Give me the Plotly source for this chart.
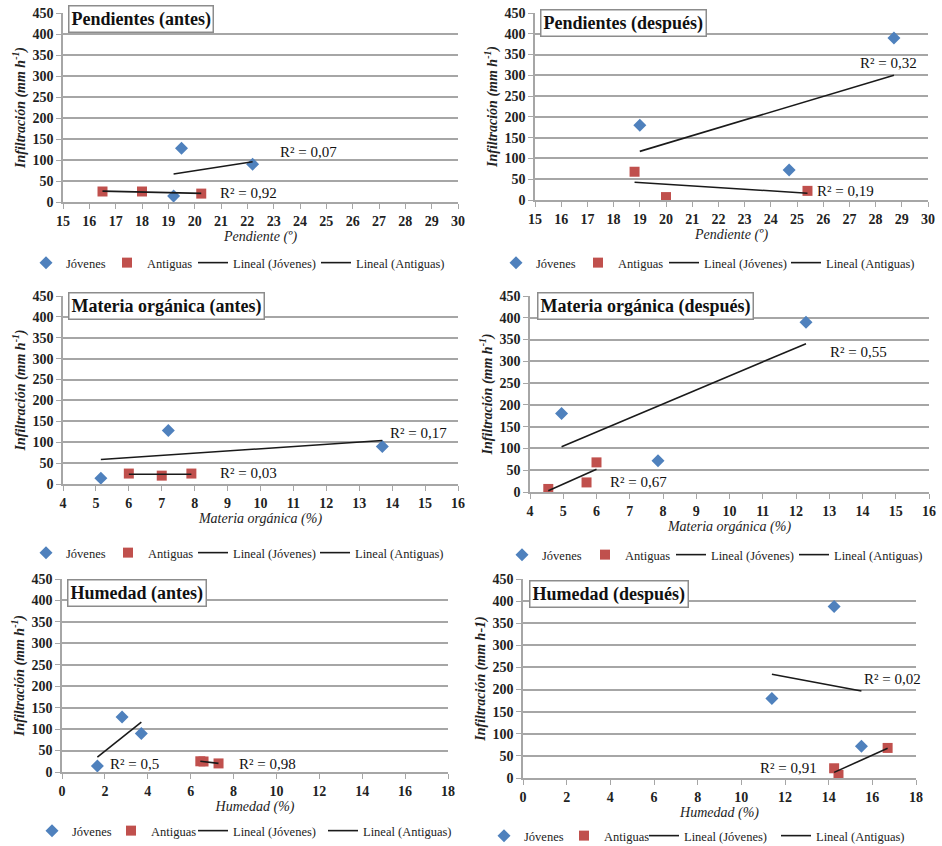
import numpy as np
import plotly.graph_objects as go

# ---------------- data ----------------
# Pendientes (antes)
pa_jov_x = [19.2, 19.5, 22.2]
pa_jov_y = [14, 128, 90]
pa_ant_x = [16.5, 18.0, 20.25]
pa_ant_y = [25, 25, 20]
# Pendientes (después)
pd_jov_x = [19.0, 24.7, 28.7]
pd_jov_y = [180, 72, 390]
pd_ant_x = [18.8, 20.0, 25.4]
pd_ant_y = [68, 7, 22]
# Materia orgánica (antes)
ma_jov_x = [5.15, 7.2, 13.7]
ma_jov_y = [14, 128, 90]
ma_ant_x = [6.0, 7.0, 7.9]
ma_ant_y = [25, 20, 25]
# Materia orgánica (después)
md_jov_x = [4.95, 7.85, 12.3]
md_jov_y = [180, 72, 390]
md_ant_x = [4.55, 5.7, 6.0]
md_ant_y = [7, 22, 68]
# Humedad (antes)
ha_jov_x = [1.65, 2.8, 3.7]
ha_jov_y = [14, 128, 90]
ha_ant_x = [6.45, 6.6, 7.3]
ha_ant_y = [25, 24.5, 20]
# Humedad (después)
hd_jov_x = [11.4, 14.25, 15.5]
hd_jov_y = [180, 388, 72]
hd_ant_x = [14.25, 14.45, 16.7]
hd_ant_y = [22, 7, 68]

titles = ["Pendientes (antes)", "Pendientes (después)",
          "Materia orgánica (antes)", "Materia orgánica (después)",
          "Humedad (antes)", "Humedad (después)"]
x_titles = ["Pendiente (º)", "Pendiente (º)",
            "Materia orgánica (%)", "Materia orgánica (%)",
            "Humedad (%)", "Humedad (%)"]
y_titles = ["Infiltración (mm h<sup>-1</sup>)", "Infiltración (mm h<sup>-1</sup>)",
            "Infiltración (mm h<sup>-1</sup>)", "Infiltración (mm h<sup>-1</sup>)",
            "Infiltración (mm h<sup>-1</sup>)", "Infiltración (mm h-1)"]
r2_jov = ["R² = 0,07", "R² = 0,32", "R² = 0,17", "R² = 0,55", "R² = 0,5", "R² = 0,02"]
r2_ant = ["R² = 0,92", "R² = 0,19", "R² = 0,03", "R² = 0,67", "R² = 0,98", "R² = 0,91"]
legend_names = ["Jóvenes", "Antiguas", "Lineal (Jóvenes)", "Lineal (Antiguas)"]

series = [
    (pa_jov_x, pa_jov_y, pa_ant_x, pa_ant_y),
    (pd_jov_x, pd_jov_y, pd_ant_x, pd_ant_y),
    (ma_jov_x, ma_jov_y, ma_ant_x, ma_ant_y),
    (md_jov_x, md_jov_y, md_ant_x, md_ant_y),
    (ha_jov_x, ha_jov_y, ha_ant_x, ha_ant_y),
    (hd_jov_x, hd_jov_y, hd_ant_x, hd_ant_y),
]

# ---------------- layout / style ----------------
W, H = 942, 846
FONT = "Liberation Serif"
BLUE = "#4F81BD"
RED = "#C0504D"
GRID = "#a6a6a6"


def px_x(p):
    return p / W


def px_y(p):
    return 1 - p / H


# plot boxes in window pixels: (left, right, top, bottom)
boxes = [(63, 458, 13, 202), (535, 928, 13, 200),
         (63, 458, 296, 484), (530, 929, 296, 492),
         (62, 448, 579, 772), (523, 916, 579, 778)]
x_ranges = [(15, 30, 1), (15, 30, 1), (4, 16, 1), (4, 16, 1), (0, 18, 2), (0, 18, 2)]
# title box top-left (px)
title_pos = [(68, 5), (540, 9), (68, 292), (537, 292), (67, 579), (529, 580)]
# legend entries: text start x (px) for each of 4 items, and row centre y (px)
legend_text_x = [(62, 143, 227, 350), (532, 614, 698, 820), (62, 144, 227, 349),
                 (538, 621, 705, 828), (68, 147, 227, 357), (520, 600, 678, 810)]
legend_shift = [36, 36, 34, 34]   # legend box left = text start - shift
legend_y = [263, 263, 553, 555, 831, 836]
# R² label anchors in data coords (left, middle)
r2_jov_pos = [(23.15, 119), (27.33, 330), (13.87, 122), (12.96, 321), (2.15, 19), (15.53, 224)]
r2_ant_pos = [(20.9, 21), (25.69, 22), (8.71, 26), (6.35, 23), (8.16, 19), (10.76, 23)]

fig = go.Figure()
annotations = []
layout = {}
leg_count = 0


def next_legend():
    global leg_count
    leg_count += 1
    return "legend" if leg_count == 1 else f"legend{leg_count}"


for i in range(6):
    n = i + 1
    xa = "x" if n == 1 else f"x{n}"
    ya = "y" if n == 1 else f"y{n}"
    jx, jy, ax_, ay_ = series[i]

    lgs = [next_legend() for _ in range(4)]
    for k, lg in enumerate(lgs):
        tx = legend_text_x[i][k]
        layout[lg] = dict(orientation="h", x=px_x(tx - legend_shift[k]), y=px_y(legend_y[i]),
                          xanchor="left", yanchor="middle", xref="paper", yref="paper",
                          font=dict(family=FONT, size=12.5, color="#222"),
                          bgcolor="rgba(0,0,0,0)", itemwidth=30, borderwidth=0)

    fig.add_trace(go.Scatter(x=jx, y=jy, mode="markers", name=legend_names[0], showlegend=True,
                             marker=dict(symbol="diamond", size=10, color=BLUE),
                             xaxis=xa, yaxis=ya, legend=lgs[0]))
    fig.add_trace(go.Scatter(x=ax_, y=ay_, mode="markers", name=legend_names[1], showlegend=True,
                             marker=dict(symbol="square", size=10, color=RED),
                             xaxis=xa, yaxis=ya, legend=lgs[1]))
    for (sx, sy, nm, lg) in [(jx, jy, legend_names[2], lgs[2]), (ax_, ay_, legend_names[3], lgs[3])]:
        m, b = np.polyfit(sx, sy, 1)
        lx = np.array([min(sx), max(sx)])
        fig.add_trace(go.Scatter(x=lx, y=m * lx + b, mode="lines", name=nm, showlegend=True,
                                 line=dict(color="#1a1a1a", width=1.6),
                                 xaxis=xa, yaxis=ya, legend=lg))

    l, r, t, bt = boxes[i]
    x0, x1, dt = x_ranges[i]
    xkey = "xaxis" if n == 1 else f"xaxis{n}"
    ykey = "yaxis" if n == 1 else f"yaxis{n}"
    layout[xkey] = dict(
        domain=[px_x(l), px_x(r)], anchor=ya, range=[x0, x1], dtick=dt, tick0=x0,
        showgrid=False, zeroline=False, showline=True, linecolor=GRID, linewidth=1.5,
        ticks="outside", ticklen=5, tickcolor=GRID, automargin=False,
        ticklabeloverflow="allow",
        tickfont=dict(family=FONT, size=14, color="#222", weight="bold"),
        title=dict(text=f"<i>{x_titles[i]}</i>", font=dict(family=FONT, size=14, color="#222"),
                   standoff=2),
    )
    layout[ykey] = dict(
        domain=[px_y(bt), px_y(t)], anchor=xa, range=[0, 450], dtick=50,
        showgrid=True, gridcolor=GRID, gridwidth=1.5, zeroline=False,
        showline=True, linecolor=GRID, linewidth=1.5, automargin=False,
        ticks="outside", ticklen=5, tickcolor=GRID, ticklabeloverflow="allow",
        tickfont=dict(family=FONT, size=14, color="#222", weight="bold"),
        title=dict(text=f"<i><b>{y_titles[i]}</b></i>", font=dict(family=FONT, size=14, color="#222"),
                   standoff=4),
    )

    tx, ty = title_pos[i]
    annotations.append(dict(text=f"<b>{titles[i]}</b>", xref="paper", yref="paper",
                            x=px_x(tx), y=px_y(ty), xanchor="left", yanchor="top", showarrow=False,
                            font=dict(family=FONT, size=18, color="#111"),
                            bgcolor="white", bordercolor="#8c8c8c", borderwidth=1.5, borderpad=2))
    for (txt, pos) in [(r2_jov[i], r2_jov_pos[i]), (r2_ant[i], r2_ant_pos[i])]:
        annotations.append(dict(text=txt, xref=xa, yref=ya, x=pos[0], y=pos[1],
                                xanchor="left", yanchor="middle", showarrow=False,
                                font=dict(family=FONT, size=15, color="#111")))

fig.update_layout(
    width=W, height=H, margin=dict(l=0, r=0, t=0, b=0, autoexpand=False),
    paper_bgcolor="white", plot_bgcolor="white", showlegend=True,
    annotations=annotations, **layout,
)

fig.write_html("out.html", config={"displayModeBar": False},
               post_script="document.body.style.margin='0px';document.body.style.overflow='hidden';")
